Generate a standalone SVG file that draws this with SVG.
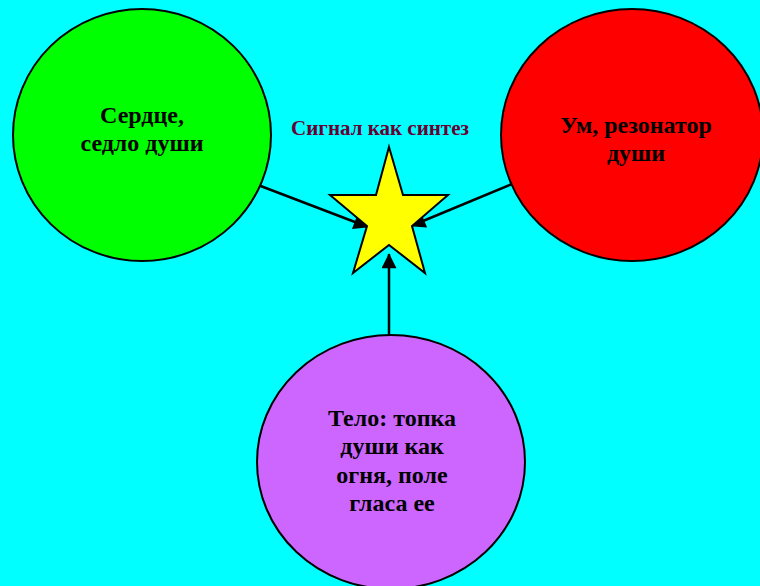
<svg xmlns="http://www.w3.org/2000/svg" width="760" height="586" viewBox="0 0 760 586">
<defs>
<style>
.node{stroke:#000;stroke-width:2}
.t{font-family:"Liberation Serif","Times New Roman",serif;font-weight:bold;font-size:24px;fill:#000;text-anchor:middle}
.lbl{font-family:"Liberation Serif","Times New Roman",serif;font-weight:bold;font-size:21px;fill:#660033;text-anchor:middle}
.c{stroke:#000;stroke-width:2.5;fill:none;marker-end:url(#ah)}
</style>
<marker id="ah" viewBox="0 0 10 10" refX="9.5" refY="5" markerWidth="6.4" markerHeight="6" orient="auto" markerUnits="strokeWidth">
<path d="M0,0 L10,5 L0,10 z" fill="#000"/>
</marker>
</defs>
<rect width="760" height="586" fill="#00FFFF"/>
<g id="connectors">
<line class="c" x1="258" y1="185" x2="368" y2="227"/>
<line class="c" x1="512" y1="184" x2="411" y2="226"/>
<line class="c" x1="389" y1="335" x2="389" y2="254"/>
</g>
<g id="heart">
<ellipse class="node" cx="142" cy="135" rx="129" ry="126" fill="#00FF00"/>
<text class="t" x="142" y="123">Сердце,</text>
<text class="t" x="142" y="151">седло души</text>
</g>
<g id="mind">
<ellipse class="node" cx="632" cy="135" rx="131" ry="126" fill="#FF0000"/>
<text class="t" x="636" y="133">Ум, резонатор</text>
<text class="t" x="636" y="161">души</text>
</g>
<g id="body">
<ellipse class="node" cx="391" cy="462" rx="134" ry="127" fill="#CC66FF"/>
<text class="t" x="392" y="426">Тело: топка</text>
<text class="t" x="392" y="454">души как</text>
<text class="t" x="392" y="483">огня, поле</text>
<text class="t" x="392" y="511">гласа ее</text>
</g>
<g id="signal">
<polygon class="node" points="389,147 403,195 448,195 412,226 425,273 389,245 353,273 367,226 330,195 376,195" fill="#FFFF00"/>
<text class="lbl" x="380" y="135">Сигнал как синтез</text>
</g>
</svg>
